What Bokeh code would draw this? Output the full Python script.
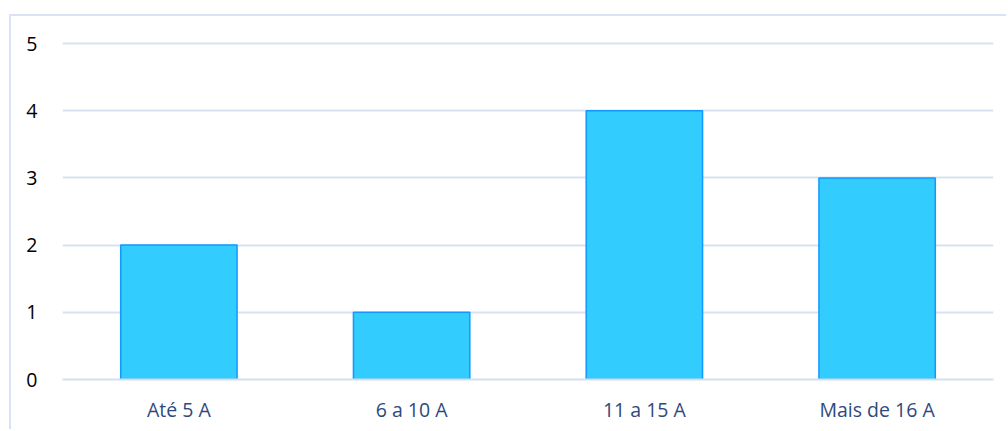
from bokeh.plotting import figure
from bokeh.models import Range1d, FixedTicker
from bokeh.embed import file_html
from bokeh.resources import INLINE

categories = ["Até 5 A", "6 a 10 A", "11 a 15 A", "Mais de 16 A"]
values = [2, 1, 4, 3]
y_ticks = [0, 1, 2, 3, 4, 5]

p = figure(x_range=categories, y_range=Range1d(0, 5.03), width=997, height=415,
           output_backend="svg", toolbar_location=None,
           min_border_left=51, min_border_right=15, min_border_top=25, min_border_bottom=52)
p.margin = (14, 0, 0, 9)
p.styles = {"border-left": "2px solid #DAE3F3", "border-top": "2px solid #DAE3F3"}
p.outline_line_color = None
p.background_fill_color = "white"
p.border_fill_color = "white"

p.vbar(x=categories, top=values, width=0.5, fill_color="#33CCFF", line_color="#1199FF", line_width=1.5)

p.yaxis.ticker = FixedTicker(ticks=y_ticks)
p.yaxis.axis_line_color = None
p.yaxis.major_tick_line_color = None
p.yaxis.minor_tick_line_color = None
p.yaxis.major_tick_out = 0
p.yaxis.major_label_standoff = 25
p.yaxis.major_label_text_font = "Open Sans"
p.yaxis.major_label_text_font_size = "19.5px"
p.yaxis.major_label_text_color = "black"

p.xaxis.axis_line_color = "#D6DEEE"
p.xaxis.axis_line_width = 2
p.xaxis.major_tick_line_color = None
p.xaxis.major_tick_out = 0
p.xaxis.major_label_standoff = 16
p.xaxis.major_label_text_font = "Open Sans"
p.xaxis.major_label_text_font_size = "19.5px"
p.xaxis.major_label_text_color = "#2E4A7D"

p.xgrid.grid_line_color = None
p.ygrid.grid_line_color = "#D9E1F0"
p.ygrid.grid_line_width = 2

open("out.html", "w").write(file_html(p, INLINE))
